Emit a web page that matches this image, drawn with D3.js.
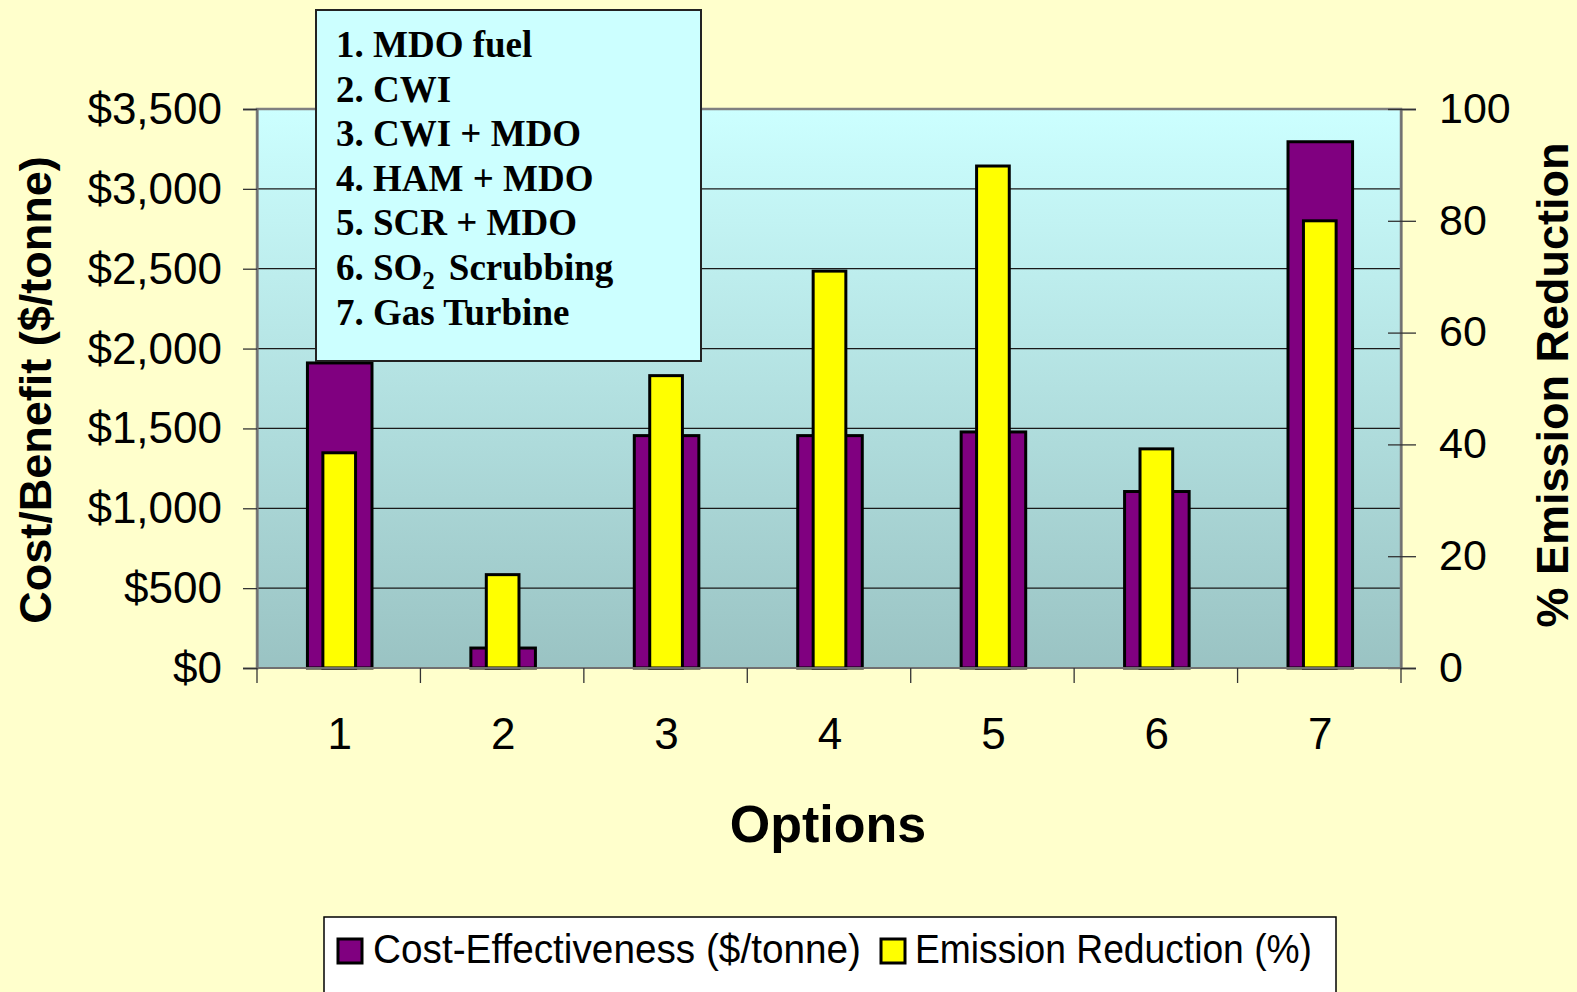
<!DOCTYPE html>
<html>
<head>
<meta charset="utf-8">
<script src="https://cdn.jsdelivr.net/npm/d3@7"></script>
<style>
  html, body { margin: 0; padding: 0; background: #FFFFCC; }
  svg { display: block; }
</style>
</head>
<body>
<svg id="chart" width="1577" height="992"></svg>
<script>
// Options compared, with cost-effectiveness ($/tonne) and emission reduction (%)
const options = ["1", "2", "3", "4", "5", "6", "7"];
const optionNames = ["MDO fuel", "CWI", "CWI + MDO", "HAM + MDO", "SCR + MDO", "SO2 Scrubbing", "Gas Turbine"];
const costEffectiveness = [1910, 125, 1455, 1455, 1478, 1105, 3295];
const emissionReduction = [38.5, 16.7, 52.3, 71.0, 89.8, 39.2, 80];
const costTicks = [0, 500, 1000, 1500, 2000, 2500, 3000, 3500];
const pctTicks = [0, 20, 40, 60, 80, 100];
const seriesNames = ["Cost-Effectiveness ($/tonne)", "Emission Reduction (%)"];

const svg = d3.select("#chart");
const W = 1577, H = 992;
const plot = { left: 257, right: 1401, top: 109, bottom: 668 };

svg.append("rect").attr("width", W).attr("height", H).attr("fill", "#FFFFCC");

const x = d3.scaleBand().domain(options).range([plot.left, plot.right]).paddingInner(0).paddingOuter(0);
const yCost = d3.scaleLinear().domain([0, 3500]).range([plot.bottom, plot.top]);
const yPct = d3.scaleLinear().domain([0, 100]).range([plot.bottom, plot.top]);

// plot wall gradient
const defs = svg.append("defs");
const grad = defs.append("linearGradient").attr("id", "wall").attr("x1", 0).attr("y1", 0).attr("x2", 0).attr("y2", 1);
grad.append("stop").attr("offset", "0%").attr("stop-color", "#CCFFFF");
grad.append("stop").attr("offset", "100%").attr("stop-color", "#9AC3C3");

svg.append("rect")
  .attr("x", plot.left).attr("y", plot.top)
  .attr("width", plot.right - plot.left).attr("height", plot.bottom - plot.top)
  .attr("fill", "url(#wall)");

// gridlines
svg.append("g").selectAll("line").data(costTicks.filter(d => d > 0 && d < 3500)).join("line")
  .attr("x1", plot.left).attr("x2", plot.right)
  .attr("y1", d => yCost(d)).attr("y2", d => yCost(d))
  .attr("stroke", "#1a1a1a").attr("stroke-width", 1.2);

// wall border (top / right / left)
svg.append("path")
  .attr("d", `M${plot.left},${plot.bottom} V${plot.top} H${plot.right} V${plot.bottom}`)
  .attr("fill", "none").attr("stroke", "#808080").attr("stroke-width", 2.5);

// bars
const band = x.bandwidth();
const wCost = band * 0.395, wPct = band * 0.2;
const gBars = svg.append("g");
gBars.selectAll("rect.cost").data(costEffectiveness).join("rect")
  .attr("class", "cost")
  .attr("x", (d, i) => x(options[i]) + band / 2 - wCost / 2 + 1)
  .attr("width", wCost)
  .attr("y", d => yCost(d))
  .attr("height", d => plot.bottom - yCost(d))
  .attr("fill", "#800080").attr("stroke", "#000").attr("stroke-width", 3);
gBars.selectAll("rect.pct").data(emissionReduction).join("rect")
  .attr("class", "pct")
  .attr("x", (d, i) => x(options[i]) + band / 2 - wPct / 2 + 0.5)
  .attr("width", wPct)
  .attr("y", d => yPct(d))
  .attr("height", d => plot.bottom - yPct(d))
  .attr("fill", "#FFFF00").attr("stroke", "#000").attr("stroke-width", 3);

// left axis
const fmtCost = d => "$" + d3.format(",")(d);
const gLeft = svg.append("g").attr("transform", `translate(${plot.left},0)`)
  .call(d3.axisLeft(yCost).tickValues(costTicks).tickFormat(fmtCost).tickSizeOuter(0).tickSize(14).tickPadding(21));
gLeft.select(".domain").attr("stroke", "#707070").attr("stroke-width", 2);
gLeft.selectAll(".tick line").attr("stroke", "#333").attr("stroke-width", 1.3);
gLeft.selectAll(".tick text").attr("font-family", "Arial, 'Liberation Sans', sans-serif")
  .attr("font-size", 44).attr("fill", "#000").attr("dy", "0.33em");

// right axis (ticks cross the axis line)
const gRight = svg.append("g").attr("transform", `translate(${plot.right},0)`)
  .call(d3.axisRight(yPct).tickValues(pctTicks).tickSizeOuter(0).tickSize(15).tickPadding(23));
gRight.select(".domain").attr("stroke", "#707070").attr("stroke-width", 2);
gRight.selectAll(".tick line").attr("x1", -13).attr("stroke", "#333").attr("stroke-width", 1.3);
gRight.selectAll(".tick text").attr("font-family", "Arial, 'Liberation Sans', sans-serif")
  .attr("font-size", 43).attr("fill", "#000").attr("dy", "0.31em");

// bottom axis: ticks at category boundaries, labels at centres
const gBottom = svg.append("g").attr("transform", `translate(0,${plot.bottom})`);
gBottom.append("line").attr("x1", plot.left).attr("x2", plot.right).attr("y1", 0).attr("y2", 0)
  .attr("stroke", "#707070").attr("stroke-width", 2);
const bounds = options.map(o => x(o)).concat([plot.right]);
gBottom.selectAll("line.tk").data(bounds).join("line").attr("class", "tk")
  .attr("x1", d => d).attr("x2", d => d).attr("y1", 0).attr("y2", 15)
  .attr("stroke", "#333").attr("stroke-width", 1.3);
gBottom.selectAll("text").data(options).join("text")
  .attr("x", d => x(d) + band / 2 + 1).attr("y", 81)
  .attr("text-anchor", "middle")
  .attr("font-family", "Arial, 'Liberation Sans', sans-serif").attr("font-size", 44)
  .text(d => d);

// axis titles
const boldSans = "Arial, 'Liberation Sans', sans-serif";
svg.append("text").attr("transform", "translate(828,842)").attr("text-anchor", "middle")
  .attr("font-family", boldSans).attr("font-weight", "bold").attr("font-size", 52).text("Options");
svg.append("text").attr("transform", "translate(51,390) rotate(-90)").attr("text-anchor", "middle")
  .attr("font-family", boldSans).attr("font-weight", "bold").attr("font-size", 45).text("Cost/Benefit ($/tonne)");
svg.append("text").attr("transform", "translate(1568,385) rotate(-90)").attr("text-anchor", "middle")
  .attr("font-family", boldSans).attr("font-weight", "bold").attr("font-size", 45).text("% Emission Reduction");

// option key box
const key = svg.append("g");
key.append("rect").attr("x", 316).attr("y", 10).attr("width", 385).attr("height", 351)
  .attr("fill", "#CCFFFF").attr("stroke", "#222").attr("stroke-width", 2);
const keyText = key.selectAll("text").data(optionNames).join("text")
  .attr("x", 336).attr("y", (d, i) => 57 + i * 44.6)
  .attr("font-family", "'Times New Roman', 'Liberation Serif', serif")
  .attr("font-weight", "bold").attr("font-size", 37).attr("fill", "#000");
keyText.each(function (d, i) {
  const t = d3.select(this);
  const label = `${options[i]}. `;
  if (d.startsWith("SO2")) {
    t.append("tspan").text(label + "SO");
    t.append("tspan").attr("font-size", 25).attr("dy", 9).text("2");
    t.append("tspan").attr("dy", -9).attr("dx", 14).text(d.slice(4));
  } else {
    t.text(label + d);
  }
});

// legend
const leg = svg.append("g");
leg.append("rect").attr("x", 324).attr("y", 917).attr("width", 1012).attr("height", 90)
  .attr("fill", "#FFFFFF").attr("stroke", "#000").attr("stroke-width", 1.5);
const legendItems = [
  { name: seriesNames[0], color: "#800080", sx: 338, tx: 373, len: 488 },
  { name: seriesNames[1], color: "#FFFF00", sx: 881, tx: 915, len: 397 }
];
leg.selectAll("rect.sw").data(legendItems).join("rect").attr("class", "sw")
  .attr("x", d => d.sx).attr("y", 939).attr("width", 24).attr("height", 24)
  .attr("fill", d => d.color).attr("stroke", "#000").attr("stroke-width", 3);
leg.selectAll("text").data(legendItems).join("text")
  .attr("x", d => d.tx).attr("y", 963)
  .attr("font-family", "Arial, 'Liberation Sans', sans-serif").attr("font-size", 41)
  .attr("textLength", d => d.len).attr("lengthAdjust", "spacingAndGlyphs")
  .text(d => d.name);
</script>
</body>
</html>
